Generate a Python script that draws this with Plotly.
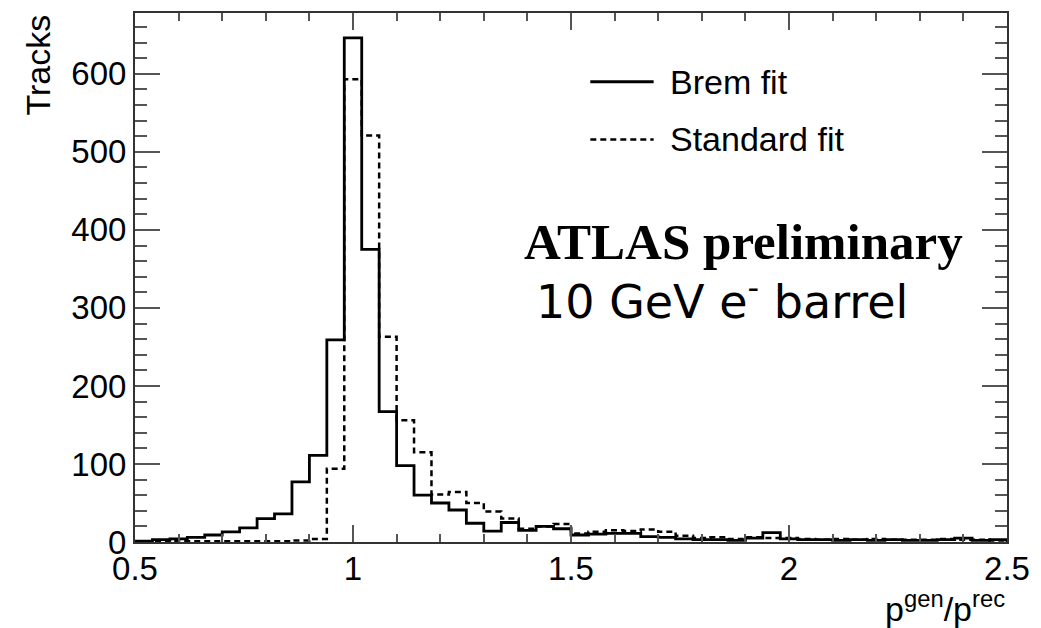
import plotly.graph_objects as go

# ---- data ----
bin_low = 0.5
bin_width = 0.04
brem_counts = [1, 3, 4, 6, 9, 13, 18, 30, 36, 77,
               111, 259, 646, 375, 167, 98, 60, 50, 41, 24,
               14, 25, 15, 20, 17, 9, 10, 11, 11, 7,
               6, 4, 3, 3, 2, 5, 12, 4, 3, 3,
               2, 3, 2, 3, 2, 2, 3, 5, 2, 3]
std_counts = [0, 0, 1, 1, 1, 1, 1, 1, 1, 2,
              4, 94, 593, 521, 263, 156, 115, 61, 64, 50,
              39, 30, 17, 20, 23, 11, 13, 15, 14, 16,
              13, 8, 5, 6, 4, 6, 5, 5, 4, 3,
              4, 3, 4, 3, 3, 3, 4, 3, 3, 2]
x_tick_vals = [0.5, 1, 1.5, 2, 2.5]
x_tick_text = ["0.5", "1", "1.5", "2", "2.5"]
y_tick_vals = [0, 100, 200, 300, 400, 500, 600]
y_tick_text = ["0", "100", "200", "300", "400", "500", "600"]
series_names = ["Brem fit", "Standard fit"]

n_bins = len(brem_counts)
edges = [round(bin_low + i * bin_width, 4) for i in range(n_bins + 1)]


def step_xy(counts):
    xs = [edges[0]] + edges[:-1] + [edges[-1]]
    ys = [0] + list(counts) + [0]
    return xs, ys


# ---- layout geometry (pixels) ----
W, H = 1041, 628
L, R, T, B = 135, 25, 11, 86
PW, PH = W - L - R, H - T - B


def px(xp):
    return (xp - L) / PW


def py(yp):
    return (H - B - yp) / PH


fig = go.Figure()
bx, by = step_xy(brem_counts)
sx, sy = step_xy(std_counts)
fig.add_trace(go.Scatter(x=sx, y=sy, mode="lines", line_shape="hv",
                         name=series_names[1],
                         line=dict(color="black", width=2.5, dash="6px,4px"),
                         showlegend=False))
fig.add_trace(go.Scatter(x=bx, y=by, mode="lines", line_shape="hv",
                         name=series_names[0],
                         line=dict(color="black", width=2.8),
                         showlegend=False))

font_sans = "Liberation Sans, Arial, sans-serif"

fig.update_layout(
    width=W, height=H,
    margin=dict(l=L, r=R, t=T, b=B),
    paper_bgcolor="white", plot_bgcolor="white",
    font=dict(family=font_sans, color="black", size=33),
    xaxis=dict(range=[0.5, 2.5], tickvals=x_tick_vals, ticktext=x_tick_text,
               ticks="inside", ticklen=17, tickwidth=2, tickcolor="#555",
               showline=True, linecolor="#333", linewidth=2, mirror="allticks",
               showgrid=False, zeroline=False, ticklabelstandoff=-4,
               tickfont=dict(size=33, family=font_sans),
               minor=dict(dtick=0.1, tick0=0.5, ticks="inside", ticklen=8,
                          tickwidth=2, tickcolor="#555", showgrid=False)),
    yaxis=dict(range=[0, 678], tickvals=y_tick_vals, ticktext=y_tick_text,
               ticks="inside", ticklen=25, tickwidth=2, tickcolor="#555",
               showline=True, linecolor="#333", linewidth=2, mirror="allticks",
               showgrid=False, zeroline=False,
               tickfont=dict(size=33, family=font_sans),
               minor=dict(dtick=20, tick0=0, ticks="inside", ticklen=12,
                          tickwidth=2, tickcolor="#555", showgrid=False)),
)

# legend drawn as shapes + text
fig.add_shape(type="line", xref="paper", yref="paper",
              x0=px(595), x1=px(659), y0=py(80), y1=py(80),
              line=dict(color="black", width=2.8))
fig.add_shape(type="line", xref="paper", yref="paper",
              x0=px(595), x1=px(659), y0=py(138), y1=py(138),
              line=dict(color="black", width=2.5, dash="6px,4px"))

ann = []
ann.append(dict(text=series_names[0], x=px(674), y=py(80), xanchor="left", yanchor="middle",
                font=dict(size=34, family=font_sans)))
ann.append(dict(text=series_names[1], x=px(674), y=py(137), xanchor="left", yanchor="middle",
                font=dict(size=34, family=font_sans)))
ann.append(dict(text="<b>ATLAS preliminary</b>", x=px(526), y=py(241), xanchor="left", yanchor="middle",
                font=dict(size=51, family="Liberation Serif, Times New Roman, serif")))
ann.append(dict(text="10 GeV e<sup>-</sup> barrel", x=px(538), y=py(298), xanchor="left", yanchor="middle",
                font=dict(size=46, family="DejaVu Sans, Verdana, sans-serif")))
ann.append(dict(text="Tracks", x=px(36), y=1.0, xanchor="center", yanchor="top", textangle=-90,
                font=dict(size=34, family=font_sans)))
ann.append(dict(text="p<sup>gen</sup>/p<sup>rec</sup>", x=1.0, y=py(630), xanchor="right", yanchor="bottom",
                font=dict(size=34, family=font_sans)))
for a in ann:
    a.update(xref="paper", yref="paper", showarrow=False)
fig.update_layout(annotations=ann)

fig.write_html("out.html")
